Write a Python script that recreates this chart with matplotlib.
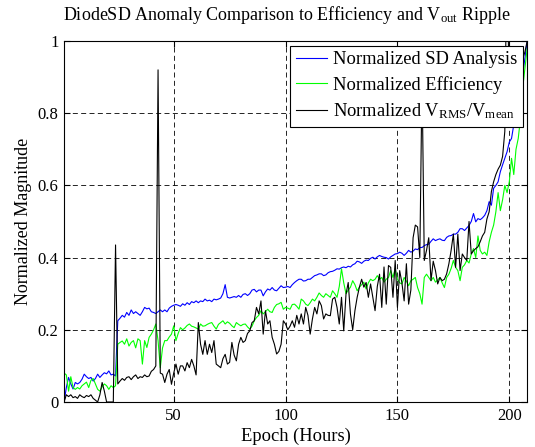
import numpy as np
import matplotlib
matplotlib.use('Agg')
import matplotlib.pyplot as plt

plt.rcParams['font.family'] = ['Liberation Serif', 'DejaVu Serif']
plt.rcParams['mathtext.fontset'] = 'custom'
plt.rcParams['mathtext.rm'] = 'Liberation Serif'
plt.rcParams['mathtext.it'] = 'Liberation Serif:italic'

epochs = np.arange(1, 209)

# normalized SD analysis (blue)
sd_analysis = [
    0.0, 0.04, 0.068, 0.05, 0.036, 0.054, 0.05, 0.054, 0.063, 0.077,
    0.07, 0.065, 0.068, 0.058, 0.065, 0.077, 0.068, 0.075, 0.081, 0.078,
    0.086, 0.075, 0.077, 0.072, 0.225, 0.232, 0.24, 0.235, 0.248, 0.24,
    0.255, 0.245, 0.25, 0.245, 0.24, 0.25, 0.262, 0.258, 0.26, 0.25,
    0.248, 0.245, 0.25, 0.255, 0.25, 0.255, 0.25, 0.26, 0.265, 0.268,
    0.27, 0.268, 0.265, 0.272, 0.268, 0.275, 0.27, 0.278, 0.275, 0.28,
    0.275, 0.28, 0.278, 0.285, 0.28, 0.282, 0.278, 0.285, 0.283, 0.285,
    0.288, 0.3, 0.325, 0.29, 0.288, 0.29, 0.292, 0.29, 0.295, 0.29,
    0.298, 0.3, 0.295, 0.3, 0.31, 0.312, 0.305, 0.31, 0.31, 0.294,
    0.305, 0.313, 0.31, 0.317, 0.31, 0.308, 0.315, 0.322, 0.317, 0.318,
    0.32, 0.317, 0.325, 0.331, 0.336, 0.34, 0.34, 0.335, 0.336, 0.34,
    0.34, 0.345, 0.35, 0.352, 0.355, 0.355, 0.35, 0.352, 0.358, 0.361,
    0.362, 0.365, 0.369, 0.368, 0.372, 0.374, 0.372, 0.376, 0.374, 0.38,
    0.383, 0.39, 0.388, 0.384, 0.39, 0.393, 0.392, 0.398, 0.401, 0.396,
    0.402, 0.406, 0.403, 0.401, 0.4, 0.396, 0.402, 0.406, 0.41, 0.411,
    0.415, 0.412, 0.406, 0.412, 0.42, 0.415, 0.418, 0.424, 0.422, 0.428,
    0.428, 0.433, 0.436, 0.437, 0.445, 0.452, 0.447, 0.45, 0.452, 0.448,
    0.447, 0.456, 0.46, 0.461, 0.465, 0.465, 0.47, 0.48, 0.48, 0.475,
    0.482, 0.489, 0.5, 0.522, 0.499, 0.508, 0.505, 0.51, 0.517, 0.53,
    0.555, 0.545, 0.592, 0.6, 0.61, 0.638, 0.657, 0.675, 0.693, 0.72,
    0.73, 0.768, 0.786, 0.823, 0.86, 0.906, 0.95, 1.0,
]

# normalized efficiency (green)
efficiency = [
    0.08, 0.075, 0.03, 0.07, 0.04, 0.035, 0.04, 0.036, 0.045, 0.05,
    0.055, 0.04, 0.06, 0.065, 0.05, 0.035, 0.03, 0.042, 0.05, 0.045,
    0.035, 0.045, 0.04, 0.045, 0.16, 0.165, 0.169, 0.16, 0.175, 0.155,
    0.165, 0.17, 0.15, 0.175, 0.17, 0.105, 0.17, 0.151, 0.179, 0.188,
    0.2, 0.216, 0.17, 0.095, 0.15, 0.17, 0.17, 0.18, 0.188, 0.211,
    0.17, 0.19, 0.206, 0.2, 0.205, 0.212, 0.216, 0.21, 0.208, 0.205,
    0.202, 0.216, 0.21, 0.211, 0.215, 0.218, 0.22, 0.21, 0.202, 0.215,
    0.22, 0.225, 0.216, 0.222, 0.218, 0.211, 0.206, 0.22, 0.215, 0.211,
    0.215, 0.216, 0.208, 0.202, 0.21, 0.225, 0.234, 0.24, 0.253, 0.244,
    0.25, 0.257, 0.25, 0.248, 0.262, 0.27, 0.272, 0.276, 0.257, 0.262,
    0.26, 0.257, 0.27, 0.271, 0.265, 0.257, 0.285, 0.28, 0.271, 0.267,
    0.275, 0.285, 0.28, 0.29, 0.302, 0.295, 0.29, 0.3, 0.295, 0.29,
    0.308, 0.3, 0.29, 0.32, 0.369, 0.33, 0.3, 0.31, 0.318, 0.336,
    0.325, 0.308, 0.318, 0.325, 0.332, 0.313, 0.33, 0.34, 0.336, 0.34,
    0.35, 0.34, 0.345, 0.332, 0.34, 0.345, 0.364, 0.345, 0.369, 0.34,
    0.33, 0.327, 0.345, 0.335, 0.322, 0.336, 0.34, 0.345, 0.317, 0.3,
    0.271, 0.345, 0.354, 0.345, 0.336, 0.345, 0.332, 0.338, 0.345, 0.33,
    0.317, 0.345, 0.354, 0.37, 0.392, 0.373, 0.364, 0.336, 0.373, 0.38,
    0.392, 0.385, 0.41, 0.425, 0.40, 0.46, 0.42, 0.41, 0.415, 0.406,
    0.444, 0.47, 0.49, 0.527, 0.58, 0.53, 0.56, 0.6, 0.58, 0.61,
    0.675, 0.63, 0.7, 0.73, 0.786, 0.87, 0.925, 0.98,
]

# normalized Vrms / Vmean (black)
vrms_ratio = [
    0.0, 0.02, 0.015, 0.02, 0.012, 0.015, 0.01, 0.02, 0.015, 0.012,
    0.018, 0.015, 0.02, 0.01, 0.005, 0.0, 0.02, 0.054, 0.03, 0.0,
    0.0, 0.0, 0.0, 0.435, 0.05, 0.058, 0.065, 0.06, 0.068, 0.07,
    0.062, 0.07, 0.075, 0.065, 0.07, 0.068, 0.075, 0.07, 0.072, 0.085,
    0.09, 0.1, 0.92, 0.08, 0.077, 0.054, 0.077, 0.09, 0.049, 0.08,
    0.105, 0.077, 0.1, 0.1, 0.086, 0.109, 0.095, 0.118, 0.1, 0.075,
    0.22, 0.16, 0.132, 0.17, 0.132, 0.16, 0.137, 0.17, 0.105, 0.1,
    0.095, 0.12, 0.132, 0.105, 0.11, 0.165, 0.13, 0.114, 0.16, 0.179,
    0.165, 0.17, 0.19, 0.197, 0.22, 0.225, 0.262, 0.244, 0.28, 0.188,
    0.253, 0.216, 0.225, 0.179, 0.16, 0.133, 0.14, 0.16, 0.225, 0.216,
    0.2, 0.21, 0.225, 0.207, 0.24, 0.216, 0.244, 0.216, 0.262, 0.24,
    0.188, 0.23, 0.262, 0.244, 0.28, 0.267, 0.23, 0.244, 0.24, 0.239,
    0.285, 0.29, 0.262, 0.216, 0.29, 0.197, 0.298, 0.331, 0.244, 0.2,
    0.253, 0.29, 0.318, 0.34, 0.318, 0.331, 0.29, 0.327, 0.29, 0.253,
    0.32, 0.354, 0.262, 0.374, 0.271, 0.378, 0.373, 0.29, 0.392, 0.262,
    0.364, 0.33, 0.28, 0.383, 0.271, 0.31, 0.455, 0.49, 0.485, 0.4,
    0.9, 0.392, 0.42, 0.455, 0.336, 0.39, 0.364, 0.327, 0.345, 0.336,
    0.34, 0.355, 0.383, 0.42, 0.465, 0.373, 0.465, 0.364, 0.41, 0.4,
    0.392, 0.5, 0.41, 0.419, 0.425, 0.43, 0.444, 0.46, 0.47, 0.507,
    0.527, 0.583, 0.61, 0.63, 0.645, 0.656, 0.68, 0.75, 1.3, 0.79,
    0.823, 0.84, 0.87, 0.9, 0.93, 0.95, 0.97, 1.0,
]

x_ticks = [50, 100, 150, 200]
y_ticks = [0, 0.2, 0.4, 0.6, 0.8, 1]
y_ticklabels = ['0', '0.2', '0.4', '0.6', '0.8', '1']

fig = plt.figure(figsize=(5.35, 4.47), dpi=100)
ax = fig.add_axes([0.1198, 0.1007, 0.8656, 0.8076])

ax.plot(epochs, sd_analysis, color=(0, 0, 1), lw=0.8, label='Normalized SD Analysis')
ax.plot(epochs, efficiency, color=(0, 1, 0), lw=0.8, label='Normalized Efficiency')
ax.plot(epochs, vrms_ratio, color='black', lw=0.8,
        label=r'Normalized V$_{\rm RMS}$/V$_{\rm mean}$')

ax.set_xlim(1, 208)
ax.set_ylim(0, 1)
ax.set_xticks(x_ticks)
ax.set_yticks(y_ticks)
ax.set_yticklabels(y_ticklabels)
ax.tick_params(direction='in', top=True, right=True, labelsize=12, length=4, pad=4)
ax.grid(True, color='black', linestyle=(0, (6, 4)), linewidth=0.6)
for s in ax.spines.values():
    s.set_linewidth(0.8)

ax.set_title(r'DiodeSD Anomaly Comparison to Efficiency and V$_{\rm out}$ Ripple',
             fontsize=13, pad=15, x=0.48)
ax.set_xlabel('Epoch (Hours)', fontsize=13.3, labelpad=3)
ax.set_ylabel('Normalized Magnitude', fontsize=13, labelpad=4)

leg = ax.legend(loc='upper right', fontsize=13.3, fancybox=False, framealpha=1,
                edgecolor='black', handlelength=1.7, handletextpad=0.3,
                labelspacing=0.42, borderpad=0.3, borderaxespad=0.25)
leg.get_frame().set_linewidth(0.8)

fig.savefig('out.png', dpi=100)
